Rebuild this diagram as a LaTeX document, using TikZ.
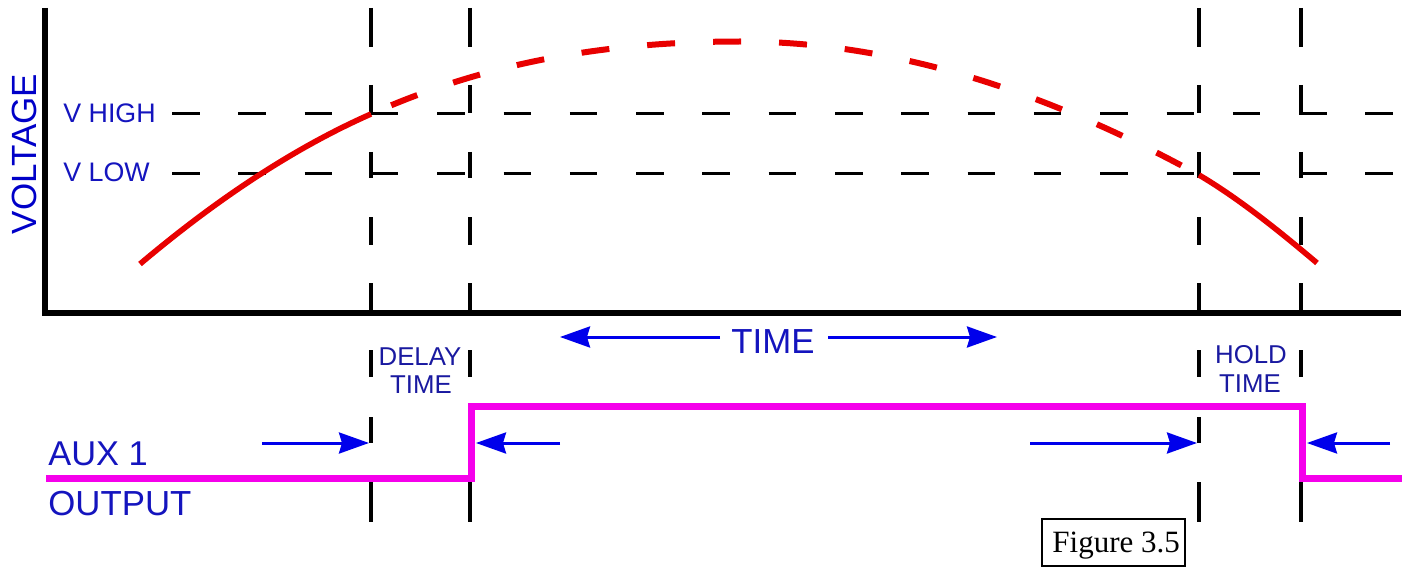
\documentclass[tikz,border=0pt]{standalone}
\usepackage{fontspec}
\setmainfont{Liberation Sans}
\newfontfamily\timesfont{Liberation Serif}
\usetikzlibrary{arrows.meta}
\definecolor{lblblue}{RGB}{20,20,190}
\definecolor{dkblue}{RGB}{25,25,160}
\definecolor{arrblue}{RGB}{0,0,235}
\definecolor{curvered}{RGB}{232,0,0}
\definecolor{auxmag}{RGB}{245,0,235}
\tikzset{
  axisline/.style={line width=3pt, black},
  gridh/.style={line width=1.5pt, black, dash pattern=on 13.75pt off 19.4pt},
  gridv/.style={line width=1.8pt, black},
  redsolid/.style={line width=2.8pt, curvered},
  reddash/.style={line width=3pt, curvered, dash pattern=on 14pt off 19pt, dash phase=22pt},
  auxline/.style={line width=3.5pt, auxmag, line join=miter},
  blarrow/.style={line width=1.5pt, arrblue, -{Stealth[length=15pt, width=10.5pt, inset=1.5pt]}},
  lbl/.style={inner sep=0pt, text=lblblue},
}
\begin{document}
\begin{tikzpicture}[x=0.5pt, y=-0.5pt]
\useasboundingbox (0,0) rectangle (1409,567);

% vertical dashed markers
\foreach \xx in {371,470,1199,1301}{
  \foreach \ya/\yb in {8/47,85/113,152/178,217/245,283/312,350/377,417/443,482/522}{
    \draw[gridv] (\xx,\ya) -- (\xx,\yb);
  }
}
% horizontal dashed levels
\coordinate (hiL) at (172,114);
\coordinate (hiR) at (1402,114);
\coordinate (loL) at (172,174);
\coordinate (loR) at (1402,174);
\draw[gridh] (hiL) -- (hiR);
\draw[gridh] (loL) -- (loR);

% axes
\coordinate (org) at (45,313);
\coordinate (ytop) at (45,8);
\coordinate (xend) at (1401,313);
\draw[axisline, line cap=butt] (ytop) -- (org) -- (xend);

% voltage curve
\coordinate (c0) at (140,264);
\coordinate (c1) at (371,114);
\coordinate (c2) at (740,41.5);
\coordinate (c3) at (1199,175);
\coordinate (c4) at (1317,263);
\draw[redsolid] (c0) .. controls (217,199) and (294,148) .. (c1);
\draw[reddash] (c1) .. controls (494,59) and (617,41.5) .. (c2) .. controls (893,41.5) and (1046,91) .. (c3);
\draw[redsolid] (c3) .. controls (1238,198) and (1278,230) .. (c4);

% labels on the chart
\node[lbl, rotate=90, font=\fontsize{17.5}{18}\selectfont, text=arrblue!85!black] (volt) at (24,154) {VOLTAGE};
\node[lbl, anchor=base west, font=\fontsize{13.4}{14}\selectfont] (vhigh) at (63,123) {V HIGH};
\node[lbl, anchor=base west, font=\fontsize{13.4}{14}\selectfont] (vlow) at (63,182) {V LOW};

% TIME arrows
\node[lbl, anchor=base, font=\fontsize{17.4}{18}\selectfont] (time) at (773,353) {TIME};
\coordinate (tl) at (560,337);
\coordinate (tla) at (720,337);
\coordinate (tr) at (997,337);
\coordinate (tra) at (828,337);
\draw[blarrow] (tla) -- (tl);
\draw[blarrow] (tra) -- (tr);

% delay / hold labels
\node[lbl, anchor=base, text=dkblue, font=\fontsize{12.9}{13}\selectfont] (delay) at (420,365) {DELAY};
\node[lbl, anchor=base, text=dkblue, font=\fontsize{12.9}{13}\selectfont] (dtime) at (421,393) {TIME};
\node[lbl, anchor=base, text=dkblue, font=\fontsize{12.9}{13}\selectfont] (hold) at (1251,363) {HOLD};
\node[lbl, anchor=base, text=dkblue, font=\fontsize{12.9}{13}\selectfont] (htime) at (1250,392) {TIME};

% AUX output trace
\coordinate (a0) at (46,478);
\coordinate (a1) at (471,478);
\coordinate (a2) at (471,406);
\coordinate (a3) at (1302,406);
\coordinate (a4) at (1302,478);
\coordinate (a5) at (1402,478);
\draw[auxline] (a0) -- (a1) -- (a2) -- (a3) -- (a4) -- (a5);

% timing arrows at the trace
\coordinate (b1s) at (262,443);
\coordinate (b1e) at (369,443);
\coordinate (b2s) at (560,443);
\coordinate (b2e) at (476,443);
\coordinate (b3s) at (1030,443);
\coordinate (b3e) at (1197,443);
\coordinate (b4s) at (1390,443);
\coordinate (b4e) at (1307,443);
\draw[blarrow] (b1s) -- (b1e);
\draw[blarrow] (b2s) -- (b2e);
\draw[blarrow] (b3s) -- (b3e);
\draw[blarrow] (b4s) -- (b4e);

\node[lbl, anchor=base west, font=\fontsize{17.2}{18}\selectfont] (aux) at (48,465) {AUX 1};
\node[lbl, anchor=base west, font=\fontsize{17.4}{18}\selectfont] (outp) at (48,515) {OUTPUT};

% figure caption box
\draw[black, line width=0.6pt] (1042,519) rectangle (1185,566);
\node[inner sep=0pt, anchor=base west, font=\timesfont\fontsize{15.5}{16}\selectfont] (fig) at (1052,552) {Figure 3.5};
\end{tikzpicture}
\end{document}
